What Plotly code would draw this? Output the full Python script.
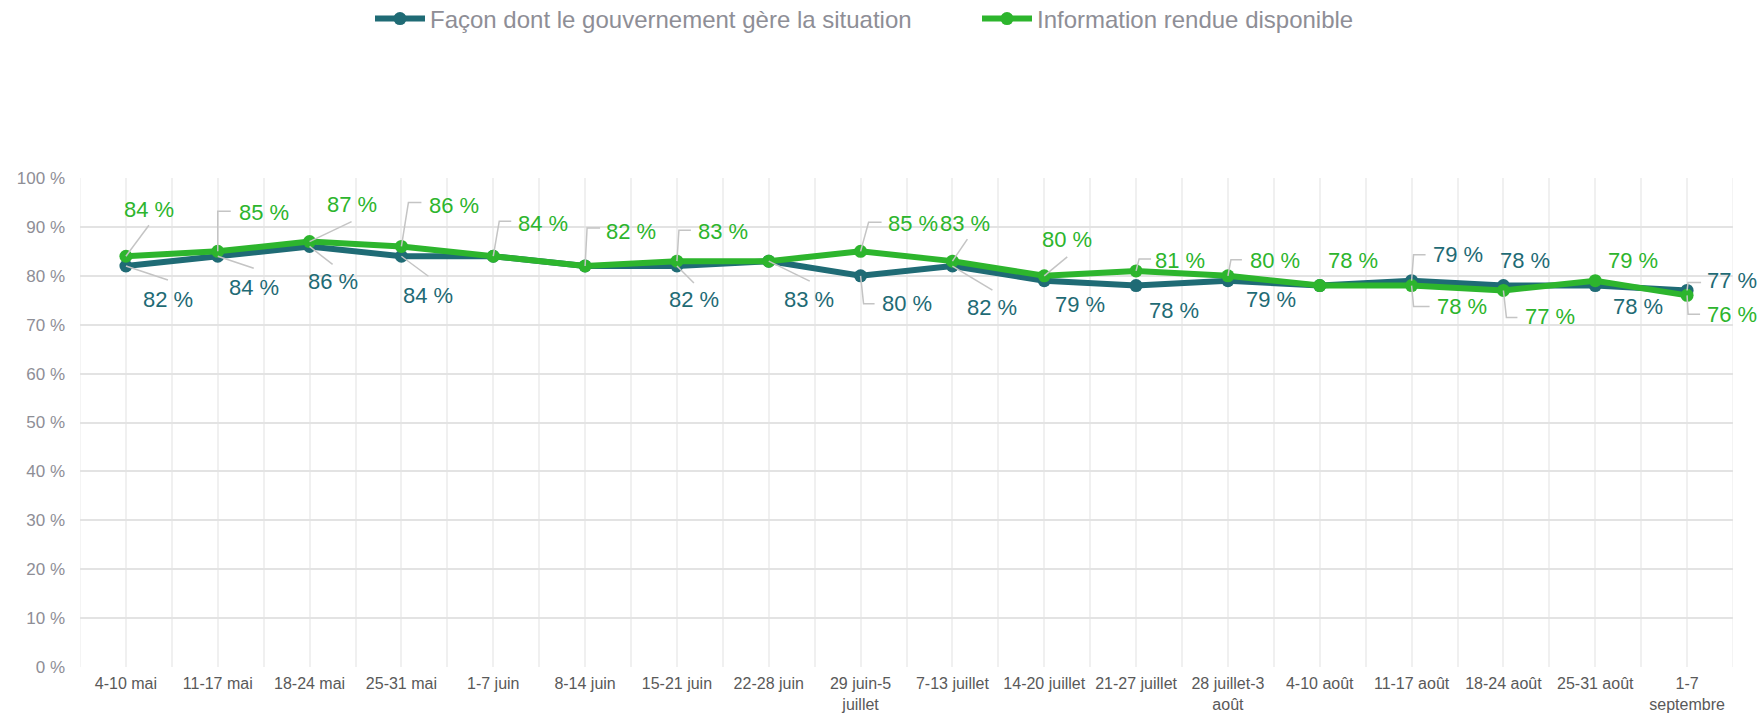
import plotly.graph_objects as go

categories = ["4-10 mai", "11-17 mai", "18-24 mai", "25-31 mai", "1-7 juin", "8-14 juin",
              "15-21 juin", "22-28 juin", "29 juin-5<br>juillet", "7-13 juillet", "14-20 juillet",
              "21-27 juillet", "28 juillet-3<br>août", "4-10 août", "11-17 août", "18-24 août",
              "25-31 août", "1-7<br>septembre"]
gov_name = "Façon dont le gouvernement gère la situation"
info_name = "Information rendue disponible"
gov_values = [82, 84, 86, 84, 84, 82, 82, 83, 80, 82, 79, 78, 79, 78, 79, 78, 78, 77]
info_values = [84, 85, 87, 86, 84, 82, 83, 83, 85, 83, 80, 81, 80, 78, 78, 77, 79, 76]
y_ticks = [0, 10, 20, 30, 40, 50, 60, 70, 80, 90, 100]
y_tick_labels = [f"{v} %" for v in y_ticks]

GOV_COLOR = "#1f6b75"
INFO_COLOR = "#2db52d"
LEADER = "#c4c4c4"
FONT = "Liberation Sans, Arial, sans-serif"

# label placement (screen px, y down): index -> (dx, dy, leader polyline)
info_labels = {
    0: (23, -47, [(0, 0), (23, -31)]),
    1: (46, -39, [(0, 0), (0, -40), (13, -40)]),
    2: (42, -37, [(0, 0), (42, -20)]),
    3: (53, -41, [(0, 0), (7, -44), (20, -44)]),
    4: (50, -33, [(0, 0), (6, -35), (18, -35)]),
    5: (46, -35, [(0, 0), (2, -38), (15, -38)]),
    6: (46, -30, [(0, 0), (2, -31), (14, -31)]),
    8: (52, -28, [(0, 0), (8, -29), (21, -29)]),
    9: (13, -38, [(0, 0), (15, -22)]),
    10: (23, -36, [(0, 0), (23, -19)]),
    11: (44, -10, [(0, 0), (3, -12), (15, -12)]),
    12: (47, -15, [(0, 0), (3, -16), (14, -16)]),
    13: (33, -25, None),
    14: (50, 21, [(0, 0), (2, 21), (18, 21)]),
    15: (47, 26, [(0, 0), (3, 27), (14, 27)]),
    16: (38, -20, None),
    17: (45, 19, [(0, 0), (1, 19), (13, 19)]),
}
gov_labels = {
    0: (42, 33, [(0, 0), (42, 14)]),
    1: (36, 31, [(0, 0), (36, 12)]),
    2: (23, 35, [(0, 0), (23, 18)]),
    3: (27, 39, [(0, 0), (27, 20)]),
    6: (17, 33, [(0, 0), (17, 17)]),
    7: (40, 38, [(0, 0), (41, 20)]),
    8: (46, 28, [(0, 0), (3, 28), (14, 28)]),
    9: (40, 41, [(0, 0), (40, 24)]),
    10: (36, 24, None),
    11: (38, 25, None),
    12: (43, 19, None),
    14: (46, -26, [(0, 0), (2, -26), (14, -26)]),
    15: (22, -25, None),
    16: (43, 21, None),
    17: (45, -10, [(0, 0), (1, -8), (14, -8)]),
}

xs = list(range(len(categories)))

fig = go.Figure()
fig.add_trace(go.Scatter(x=xs, y=gov_values, name=gov_name, mode="lines+markers",
                         line=dict(color=GOV_COLOR, width=6), marker=dict(size=13, color=GOV_COLOR)))
fig.add_trace(go.Scatter(x=xs, y=info_values, name=info_name, mode="lines+markers",
                         line=dict(color=INFO_COLOR, width=6), marker=dict(size=13, color=INFO_COLOR)))

annotations = []
shapes = []
for values, labels, color in [(gov_values, gov_labels, GOV_COLOR), (info_values, info_labels, INFO_COLOR)]:
    for i, (dx, dy, leader) in labels.items():
        v = values[i]
        annotations.append(dict(x=i, y=v, xref="x", yref="y", text=f"{v} %", showarrow=False,
                                xshift=dx, yshift=-dy, xanchor="center", yanchor="middle",
                                font=dict(family=FONT, size=22, color=color)))
        if leader:
            path = "M " + " L ".join(f"{px},{-py}" for px, py in leader)
            shapes.append(dict(type="path", xref="x", yref="y", xsizemode="pixel", ysizemode="pixel",
                               xanchor=i, yanchor=v, path=path,
                               line=dict(color=LEADER, width=1.5), layer="above"))

fig.update_layout(
    width=1762, height=713,
    margin=dict(l=80, r=29, t=178, b=46, autoexpand=False),
    paper_bgcolor="white", plot_bgcolor="white",
    font=dict(family=FONT),
    showlegend=True,
    legend=dict(orientation="h", x=370 / 1762, xref="container", xanchor="left",
                yref="container", y=1 - 19 / 713, yanchor="middle",
                font=dict(family=FONT, size=24, color="#8e8e96"),
                itemwidth=50, entrywidth=542, entrywidthmode="pixels",
                bgcolor="rgba(0,0,0,0)"),
    xaxis=dict(range=[-0.5, len(categories) - 0.5], tickvals=xs, ticktext=categories,
               showgrid=True, gridcolor="#f0f0f0", gridwidth=1.5,
               minor=dict(tick0=0.5, dtick=1, showgrid=True, gridcolor="#f0f0f0", gridwidth=1.5),
               zeroline=False, showline=False, ticks="", ticklabelstandoff=5, tickangle=0,
               automargin=False,
               tickfont=dict(family=FONT, size=16, color="#595959"), fixedrange=True),
    yaxis=dict(range=[0, 100], tickvals=y_ticks, ticktext=y_tick_labels,
               showgrid=True, gridcolor="#e3e3e3", gridwidth=2,
               zeroline=False, showline=False, ticks="", ticklabelstandoff=14, automargin=False,
               tickfont=dict(family=FONT, size=17, color="#8e8e96"), fixedrange=True),
    annotations=annotations,
    shapes=shapes,
)
fig.add_shape(type="line", xref="x", yref="paper", x0=-0.5, x1=-0.5, y0=0, y1=1,
              line=dict(color="#f0f0f0", width=1.5), layer="below")
fig.add_shape(type="line", xref="x", yref="paper", x0=len(categories) - 0.5, x1=len(categories) - 0.5,
              y0=0, y1=1, line=dict(color="#f0f0f0", width=1.5), layer="below")

fig.write_html("out.html", config={"displayModeBar": False},
               post_script="document.body.style.margin='0';document.body.style.overflow='hidden';")
